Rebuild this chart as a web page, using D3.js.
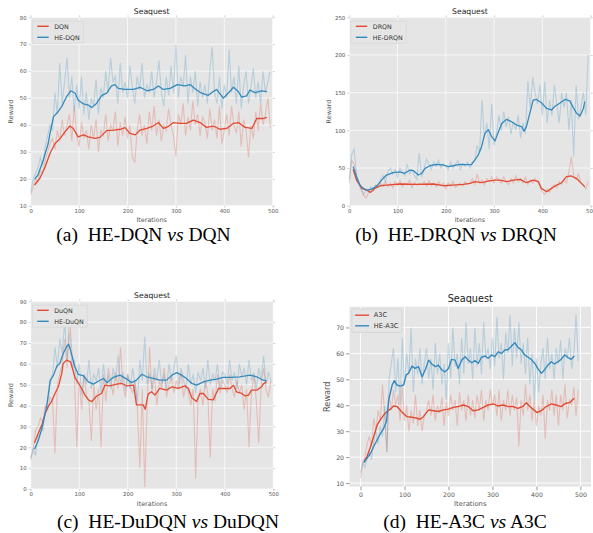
<!DOCTYPE html>
<html>
<head>
<meta charset="utf-8">
<script src="https://cdn.jsdelivr.net/npm/d3@7"></script>
<style>
  body { margin: 0; background: #fff; }
</style>
</head>
<body>
<div id="chart"></div>
<script>
const RED = '#E24A33'
const BLUE = '#348ABD'

// raw reward, one value every 5 iterations (0..495)
const rawIters = d3.range(0, 500, 5)

const aRawDQN = [
  14, 17, 20, 19, 23, 22, 27, 30, 33, 35,
  31, 38, 34, 42, 36, 40, 44, 34, 47, 36,
  32, 41, 35, 38, 31, 40, 35, 42, 30, 38,
  36, 44, 34, 40, 38, 45, 32, 41, 36, 43,
  35, 40, 28, 26, 38, 44, 36, 40, 33, 45,
  38, 47, 36, 42, 34, 40, 38, 46, 40, 36,
  28, 44, 40, 48, 36, 43, 38, 49, 40, 44,
  36, 43, 41, 35, 46, 38, 42, 35, 47, 33,
  38, 44, 36, 47, 40, 37, 45, 32, 42, 38,
  28, 40, 35, 45, 38, 48, 40, 44, 50, 39]
const aRawHE = [
  15, 20, 22, 24, 28, 25, 32, 36, 40, 38,
  52, 44, 63, 48, 56, 65, 50, 58, 45, 55,
  46, 58, 44, 52, 42, 50, 47, 57, 44, 54,
  50, 60, 52, 65, 56, 58, 48, 63, 52, 56,
  50, 62, 54, 48, 58, 53, 63, 50, 55, 52,
  60, 50, 56, 64, 52, 47, 58, 51, 62, 52,
  70, 50, 58, 54, 66, 48, 58, 52, 60, 47,
  56, 50, 55, 48, 60, 69, 52, 48, 58, 46,
  55, 50, 68, 52, 58, 48, 62, 46, 55, 60,
  48, 54, 61, 50, 56, 48, 60, 52, 56, 60]

const bRawDRQN = [
  35, 60, 55, 40, 28, 20, 14, 10, 18, 22,
  20, 28, 24, 30, 26, 32, 25, 30, 24, 32,
  27, 33, 25, 30, 28, 34, 24, 31, 27, 30,
  28, 32, 26, 33, 27, 30, 25, 32, 26, 30,
  22, 30, 26, 32, 24, 28, 30, 26, 32, 28,
  30, 36, 28, 42, 30, 34, 28, 36, 32, 38,
  30, 38, 34, 30, 38, 32, 28, 36, 30, 40,
  32, 36, 30, 38, 28, 34, 30, 36, 32, 25,
  18, 15, 22, 18, 25, 28, 24, 32, 28, 35,
  30, 45, 65, 40, 35, 42, 30, 28, 22, 32]
const bRawHE = [
  30, 68, 75, 40, 30, 22, 15, 22, 18, 25,
  20, 26, 28, 35, 40, 32, 45, 50, 42, 48,
  38, 50, 44, 40, 55, 42, 48, 40, 35, 70,
  38, 50, 62, 55, 48, 58, 52, 60, 50, 55,
  52, 48, 58, 50, 55, 60, 48, 56, 52, 58,
  50, 58, 60, 80, 70, 140, 90, 110, 75, 135,
  80, 95, 120, 100, 125, 105, 118, 95, 112, 100,
  120, 90, 110, 95, 165, 130, 170, 150, 135, 160,
  120, 165, 110, 140, 120, 160, 135, 110, 150, 130,
  150, 100, 140, 65, 160, 115, 130, 150, 120, 200]

const cRawDuQN = [
  15, 18, 28, 30, 34, 32, 40, 38, 44, 42,
  17, 50, 55, 60, 72, 58, 84, 65, 55, 20,
  52, 38, 55, 45, 42, 23, 50, 38, 48, 20,
  55, 42, 58, 52, 45, 56, 48, 68, 50, 44,
  55, 50, 46, 52, 38, 10, 48, 1, 40, 68,
  46, 55, 40, 52, 48, 58, 44, 50, 54, 46,
  52, 48, 56, 44, 50, 46, 40, 48, 5, 44,
  48, 40, 52, 46, 15, 48, 42, 55, 46, 52,
  50, 46, 55, 48, 44, 52, 46, 50, 38, 48,
  20, 46, 55, 42, 22, 50, 58, 48, 44, 52]
const cRawHE = [
  14, 20, 16, 25, 30, 28, 38, 42, 50, 55,
  68, 58, 72, 65, 80, 62, 75, 58, 62, 50,
  60, 45, 55, 50, 62, 48, 55, 52, 58, 46,
  60, 50, 55, 48, 58, 52, 64, 50, 56, 47,
  55, 48, 58, 50, 42, 62, 52, 73, 50, 56,
  48, 58, 52, 62, 50, 55, 48, 60, 52, 58,
  64, 50, 58, 52, 48, 60, 50, 55, 46, 56,
  52, 58, 48, 62, 50, 55, 52, 60, 48, 56,
  55, 50, 62, 52, 56, 48, 60, 54, 58, 50,
  62, 52, 56, 48, 58, 52, 64, 50, 56, 52]

const dRawA3C = [
  12, 17, 20, 25, 28, 24, 35, 30, 38, 34,
  48, 36, 22, 44, 38, 46, 40, 44, 34, 48,
  34, 40, 30, 38, 33, 44, 32, 38, 30, 36,
  38, 42, 36, 44, 34, 40, 37, 43, 32, 41,
  36, 44, 38, 42, 32, 45, 38, 42, 34, 44,
  36, 42, 35, 44, 38, 46, 34, 42, 38, 46,
  40, 44, 36, 46, 34, 42, 38, 46, 36, 44,
  38, 43, 24, 42, 36, 48, 38, 44, 34, 42,
  32, 40, 36, 44, 27, 42, 38, 46, 36, 44,
  32, 44, 38, 48, 35, 42, 40, 47, 36, 46]
const dRawHE = [
  14, 18, 16, 20, 22, 19, 26, 30, 25, 32,
  28, 40, 22, 50, 56, 62, 45, 58, 40, 66,
  48, 60, 52, 70, 45, 58, 52, 62, 48, 56,
  62, 50, 58, 46, 64, 52, 60, 48, 56, 42,
  64, 50, 70, 55, 60, 48, 66, 52, 72, 56,
  62, 50, 70, 55, 64, 52, 72, 58, 62, 54,
  66, 55, 74, 58, 64, 50, 68, 60, 75, 55,
  70, 58, 72, 56, 64, 52, 66, 48, 60, 42,
  58, 45, 56, 62, 50, 66, 54, 60, 50, 62,
  56, 65, 50, 62, 58, 66, 54, 60, 75, 57]

// smoothed reward as [iteration, value]
const aSmoothDQN = [[8,17.7],[19,20.2],[30,24.5],[40,29.5],[50,33],[61,35],[71,37.5],[81,39.6],[88,38.7],[98,35.6],[109,36.3],[119,35.6],[133,35],[143,35.4],[157,37.9],[171,38.1],[185,38.4],[195,39],[205,36.9],[216,36.3],[226,38.1],[240,38.7],[253,39.6],[264,40.9],[274,38.7],[284,39.4],[295,40.9],[308,40.6],[322,40.6],[336,41.8],[350,40.9],[363,39.1],[377,39.6],[391,38.4],[405,38.7],[419,40.6],[429,40.9],[443,39.1],[457,38.7],[467,42.4],[481,42.4],[488,42.8]]
const aSmoothHE = [[8,19.8],[15,21.4],[26,27],[36,33],[40,37],[47,43],[57,45],[64,46.8],[74,50.5],[83,52.7],[92,51.8],[98,49.3],[109,47.8],[119,47.4],[126,46.5],[136,48],[147,51],[157,51.8],[167,54.5],[174,55],[181,53.6],[195,53.2],[212,53.2],[226,54],[240,52.7],[253,53.2],[264,54.5],[274,53.2],[288,53.6],[303,55],[319,54.5],[329,55],[343,53],[353,51.8],[367,51],[377,52.4],[384,53.2],[398,50],[408,51.8],[419,54],[429,52.4],[436,50.3],[446,50.8],[453,53],[463,52],[477,52.7],[488,52.4]]

const bSmoothDRQN = [[8,48],[15,34],[26,23],[36,20.8],[44,17.7],[53,23],[64,26.5],[77,27.4],[105,28.8],[140,28.3],[174,28.8],[195,26.5],[215,27.4],[236,28.3],[250,29.6],[260,31.9],[274,30.5],[288,32.7],[302,34],[312,34],[326,31.9],[340,34],[354,35],[367,30.5],[381,34],[392,31.9],[398,23],[409,18.6],[419,23],[430,27.4],[440,30.5],[450,38.5],[460,39.4],[471,36],[481,29.6],[488,25]]
const bSmoothHE = [[8,51.8],[15,38.5],[22,27.4],[29,23],[36,20.8],[46,22],[57,26],[67,34],[77,40.7],[91,43.8],[105,45],[115,43],[126,47.3],[133,46.5],[143,40.7],[150,43],[157,49.6],[167,53],[181,54.9],[195,54],[205,51.8],[215,53],[229,54.9],[243,54.4],[253,54.4],[260,60.6],[267,67],[274,78],[281,96],[288,101],[295,91.6],[302,86],[309,98],[316,109],[326,114.6],[336,111.5],[347,107],[357,105],[362,99],[367,105],[374,122.6],[381,140],[388,141],[398,136.7],[409,129],[419,127],[426,132],[436,136],[447,141],[457,139],[464,130.5],[471,122.6],[478,119],[485,129],[488,138]]

const cSmoothDuQN = [[8,22.2],[16,27],[23,30.7],[30,36.3],[36,39.5],[43,41.9],[50,45.8],[57,49],[64,55.4],[67,60.2],[74,61.8],[82,61],[87,57],[91,53.5],[102,49.4],[112,45],[119,42.7],[126,41.9],[136,44.6],[146,45.8],[153,49.8],[163,49.4],[177,50.3],[188,50.6],[198,49.4],[212,49.8],[218,40.3],[226,40.3],[232,40.3],[236,38.2],[242,45.5],[249,46.6],[256,45],[266,48.2],[280,47.4],[291,49],[304,48.2],[318,49.4],[325,48.2],[332,43.8],[342,41.9],[349,45.8],[356,45.8],[366,43],[376,42.7],[387,48.2],[397,48.2],[411,48.2],[418,49.8],[424,46.6],[435,45.8],[442,44.6],[449,45],[455,47.4],[466,47.4],[476,49],[479,50.3],[486,51.4]]
const cSmoothHE = [[8,19.2],[16,23.5],[23,29],[33,39.5],[40,52],[47,54.6],[54,59],[60,60.2],[67,65],[74,68.2],[78,69.5],[82,66.6],[91,58.6],[98,55],[109,54.2],[119,51.4],[129,50.3],[140,51.8],[150,53],[157,51],[170,53.5],[184,54.6],[198,52.7],[208,51],[218,52.2],[229,55],[239,53.8],[253,53],[266,52.2],[280,52.2],[291,54.6],[301,55.8],[311,54.6],[321,53],[332,50.6],[342,49.8],[356,51.4],[370,52.2],[383,52.7],[397,53.5],[411,53.5],[431,53.8],[452,54.6],[466,53.8],[476,52.5],[486,51.9]]

const dSmoothA3C = [[8,18.3],[15,20.3],[23,24.1],[30,27.9],[38,32.4],[45,34.4],[53,36.3],[60,37.6],[68,38.5],[75,39.7],[83,39.5],[90,38.2],[98,36.7],[106,35.6],[117,35.4],[128,35],[136,34.6],[143,35.6],[155,38.2],[166,37.9],[177,37.6],[189,38.2],[200,38.5],[211,39.2],[222,39.5],[234,40.1],[245,39.5],[256,37.9],[268,38.2],[279,39.2],[290,40.1],[302,40.5],[313,39.7],[324,40.1],[336,39.5],[347,39.5],[358,38.8],[370,39.7],[377,41],[385,39.5],[392,38.5],[401,37.2],[411,37.9],[422,39.5],[434,40.5],[445,40.1],[456,39.5],[467,40.8],[475,41],[486,42.7]]
const dSmoothHE = [[8,17.9],[15,19.6],[23,21.5],[30,24.1],[38,26.7],[45,29],[53,31.2],[59,33.7],[64,42],[72,47.8],[77,49.5],[83,47.8],[90,47.4],[98,47.8],[104,51.7],[109,52.3],[117,55.1],[124,54.2],[132,54.9],[140,51],[147,53.6],[155,57.4],[162,55.9],[170,54.9],[177,55.5],[185,53.6],[192,52.9],[200,54.2],[207,57.7],[215,57.4],[222,54.2],[230,57.4],[238,58.7],[245,57.4],[253,56.4],[260,57.2],[268,56.2],[275,58.5],[283,59],[290,58.1],[298,59.4],[305,58.7],[313,60.6],[321,60],[328,61.3],[336,61.5],[343,62.8],[351,64.1],[358,62.3],[366,61.3],[373,59.4],[381,58.5],[388,57.7],[396,56.2],[403,54.2],[411,52.3],[419,53.8],[426,55.5],[434,56.8],[441,55.9],[449,56.8],[456,57.7],[464,59.4],[471,58.5],[479,57.7],[486,59]]

const xTicks = [0, 100, 200, 300, 400, 500]
const aYTicks = [10, 20, 30, 40, 50, 60, 70, 80]
const bYTicks = [0, 50, 100, 150, 200, 250]
const cYTicks = [0, 10, 20, 30, 40, 50, 60, 70, 80, 90]
const dYTicks = [10, 20, 30, 40, 50, 60, 70]

const panels = [
  { box: [30.7, 17.3, 272.7, 205.7], xDom: [0, 500], yDom: [10, 80], yTicks: aYTicks, modern: false,
    names: ['DQN', 'HE-DQN'], raw: [aRawDQN, aRawHE], smooth: [aSmoothDQN, aSmoothHE],
    caption: ['(a)', 'HE-DQN', 'DQN'], cap: [143.5, 241] },
  { box: [349.3, 17.3, 590.6, 205.7], xDom: [0, 500], yDom: [0, 250], yTicks: bYTicks, modern: false,
    names: ['DRQN', 'HE-DRQN'], raw: [bRawDRQN, bRawHE], smooth: [bSmoothDRQN, bSmoothHE],
    caption: ['(b)', 'HE-DRQN', 'DRQN'], cap: [456, 241] },
  { box: [30.7, 301.3, 273.3, 489], xDom: [0, 500], yDom: [0, 90], yTicks: cYTicks, modern: false,
    names: ['DuQN', 'HE-DuQN'], raw: [cRawDuQN, cRawHE], smooth: [cSmoothDuQN, cSmoothHE],
    caption: ['(c)', 'HE-DuDQN', 'DuDQN'], cap: [168, 528] },
  { box: [349.5, 306.7, 591, 486.7], xDom: [-25, 524], yDom: [8.6, 78], yTicks: dYTicks, modern: true,
    names: ['A3C', 'HE-A3C'], raw: [dRawA3C, dRawHE], smooth: [dSmoothA3C, dSmoothHE],
    caption: ['(d)', 'HE-A3C', 'A3C'], cap: [465, 528] }
]

const svg = d3.select('#chart').append('svg').attr('width', 593).attr('height', 533)
svg.append('rect').attr('width', 593).attr('height', 533).attr('fill', '#ffffff')

const font = 'DejaVu Sans, sans-serif'

panels.forEach((p) => {
  const [left, top, right, bottom] = p.box
  const x = d3.scaleLinear().domain(p.xDom).range([left, right])
  const y = d3.scaleLinear().domain(p.yDom).range([bottom, top])
  const g = svg.append('g')

  g.append('rect')
    .attr('x', left).attr('y', top)
    .attr('width', right - left).attr('height', bottom - top)
    .attr('fill', '#e5e5e5')

  // grid
  g.selectAll('.gx').data(xTicks).join('line')
    .attr('x1', (d) => x(d)).attr('x2', (d) => x(d))
    .attr('y1', top).attr('y2', bottom)
    .attr('stroke', '#ffffff').attr('stroke-width', p.modern ? 0.9 : 0.7)
  g.selectAll('.gy').data(p.yTicks).join('line')
    .attr('x1', left).attr('x2', right)
    .attr('y1', (d) => y(d)).attr('y2', (d) => y(d))
    .attr('stroke', '#ffffff').attr('stroke-width', p.modern ? 0.9 : 0.7)

  // axes
  const tickLen = p.modern ? 3.5 : 2
  const tickColor = p.modern ? '#555555' : '#b0b0b0'
  const labelSize = p.modern ? 6.2 : 5.4
  const bottomAxis = d3.axisBottom(x).tickValues(xTicks).tickSize(tickLen).tickPadding(p.modern ? 2.5 : 1.5)
  const leftAxis = d3.axisLeft(y).tickValues(p.yTicks).tickSize(tickLen).tickPadding(2)

  const styleAxis = (sel) => {
    sel.select('.domain').remove()
    sel.selectAll('line').attr('stroke', tickColor).attr('stroke-width', 0.6)
    sel.selectAll('text').attr('fill', '#555555').attr('font-family', font).attr('font-size', labelSize)
  }
  g.append('g').attr('transform', `translate(0,${bottom})`).call(bottomAxis).call(styleAxis)
  g.append('g').attr('transform', `translate(${left},0)`).call(leftAxis).call(styleAxis)

  if (!p.modern) {
    // matplotlib 1.x ggplot style keeps short ticks on every side
    g.append('g').attr('transform', `translate(0,${top})`)
      .call(d3.axisTop(x).tickValues(xTicks).tickSize(tickLen).tickFormat(''))
      .call(styleAxis)
    g.append('g').attr('transform', `translate(${right},0)`)
      .call(d3.axisRight(y).tickValues(p.yTicks).tickSize(tickLen).tickFormat(''))
      .call(styleAxis)
  }

  // raw curves
  const rawLine = d3.line().x((d, i) => x(rawIters[i])).y((d) => y(d))
  p.raw.forEach((series, k) => {
    g.append('path')
      .attr('d', rawLine(series))
      .attr('fill', 'none')
      .attr('stroke', k === 0 ? RED : BLUE)
      .attr('stroke-opacity', 0.26)
      .attr('stroke-width', 1.1)
  })

  // smoothed curves
  const smoothLine = d3.line().x((d) => x(d[0])).y((d) => y(d[1]))
  p.smooth.forEach((series, k) => {
    g.append('path')
      .attr('d', smoothLine(series))
      .attr('fill', 'none')
      .attr('stroke', k === 0 ? RED : BLUE)
      .attr('stroke-width', p.modern ? 1.4 : 1.3)
      .attr('stroke-linejoin', 'round')
  })

  // titles and labels
  g.append('text')
    .attr('x', (left + right) / 2)
    .attr('y', p.modern ? top - 5 : top - 3)
    .attr('text-anchor', 'middle')
    .attr('font-family', font)
    .attr('font-size', p.modern ? 9.7 : 7.7)
    .attr('fill', '#222222')
    .text('Seaquest')

  g.append('text')
    .attr('x', (left + right) / 2)
    .attr('y', bottom + (p.modern ? 19.5 : 16.5))
    .attr('text-anchor', 'middle')
    .attr('font-family', font)
    .attr('font-size', p.modern ? 6.8 : 6.4)
    .attr('fill', '#555555')
    .text('Iterations')

  const rx = left - (p.modern ? 20 : 18)
  const ry = (top + bottom) / 2
  g.append('text')
    .attr('transform', `translate(${rx},${ry}) rotate(-90)`)
    .attr('text-anchor', 'middle')
    .attr('font-family', font)
    .attr('font-size', p.modern ? 8.2 : 6.4)
    .attr('fill', '#555555')
    .text('Reward')

  // legend
  const lx = left + (p.modern ? 2.3 : 1.5)
  const ly = top + (p.modern ? 2.3 : 3.8)
  const rowY = p.modern ? [6.2, 16.8] : [5.2, 16.2]
  const leg = g.append('g')
  const box = leg.append('rect')
    .attr('x', lx).attr('y', ly)
    .attr('height', p.modern ? 23.5 : 22)
    .attr('rx', p.modern ? 2 : 0)
    .attr('fill', '#e5e5e5')
    .attr('stroke', p.modern ? '#cccccc' : '#d4d4d4')
    .attr('stroke-width', 0.6)
  let maxW = 0
  p.names.forEach((name, k) => {
    leg.append('line')
      .attr('x1', lx + (p.modern ? 3.3 : 5)).attr('x2', lx + (p.modern ? 17.3 : 16.5))
      .attr('y1', ly + rowY[k]).attr('y2', ly + rowY[k])
      .attr('stroke', k === 0 ? RED : BLUE).attr('stroke-width', 1.4)
    const t = leg.append('text')
      .attr('x', lx + 22)
      .attr('y', ly + rowY[k] + 2.2)
      .attr('font-family', font)
      .attr('font-size', p.modern ? 6.6 : 6.3)
      .attr('fill', '#333333')
      .text(name)
    maxW = Math.max(maxW, t.node().getComputedTextLength())
  })
  box.attr('width', 22 + maxW + 3.5)

  // caption under the panel
  const cap = svg.append('text')
    .attr('x', p.cap[0]).attr('y', p.cap[1])
    .attr('text-anchor', 'middle')
    .attr('font-family', 'Liberation Serif, Times New Roman, serif')
    .attr('font-size', 19.5)
    .attr('fill', '#000000')
  cap.append('tspan').text(p.caption[0] + '\u00a0\u00a0' + p.caption[1] + ' ')
  cap.append('tspan').attr('font-style', 'italic').text('vs')
  cap.append('tspan').text(' ' + p.caption[2])
})
</script>
</body>
</html>
